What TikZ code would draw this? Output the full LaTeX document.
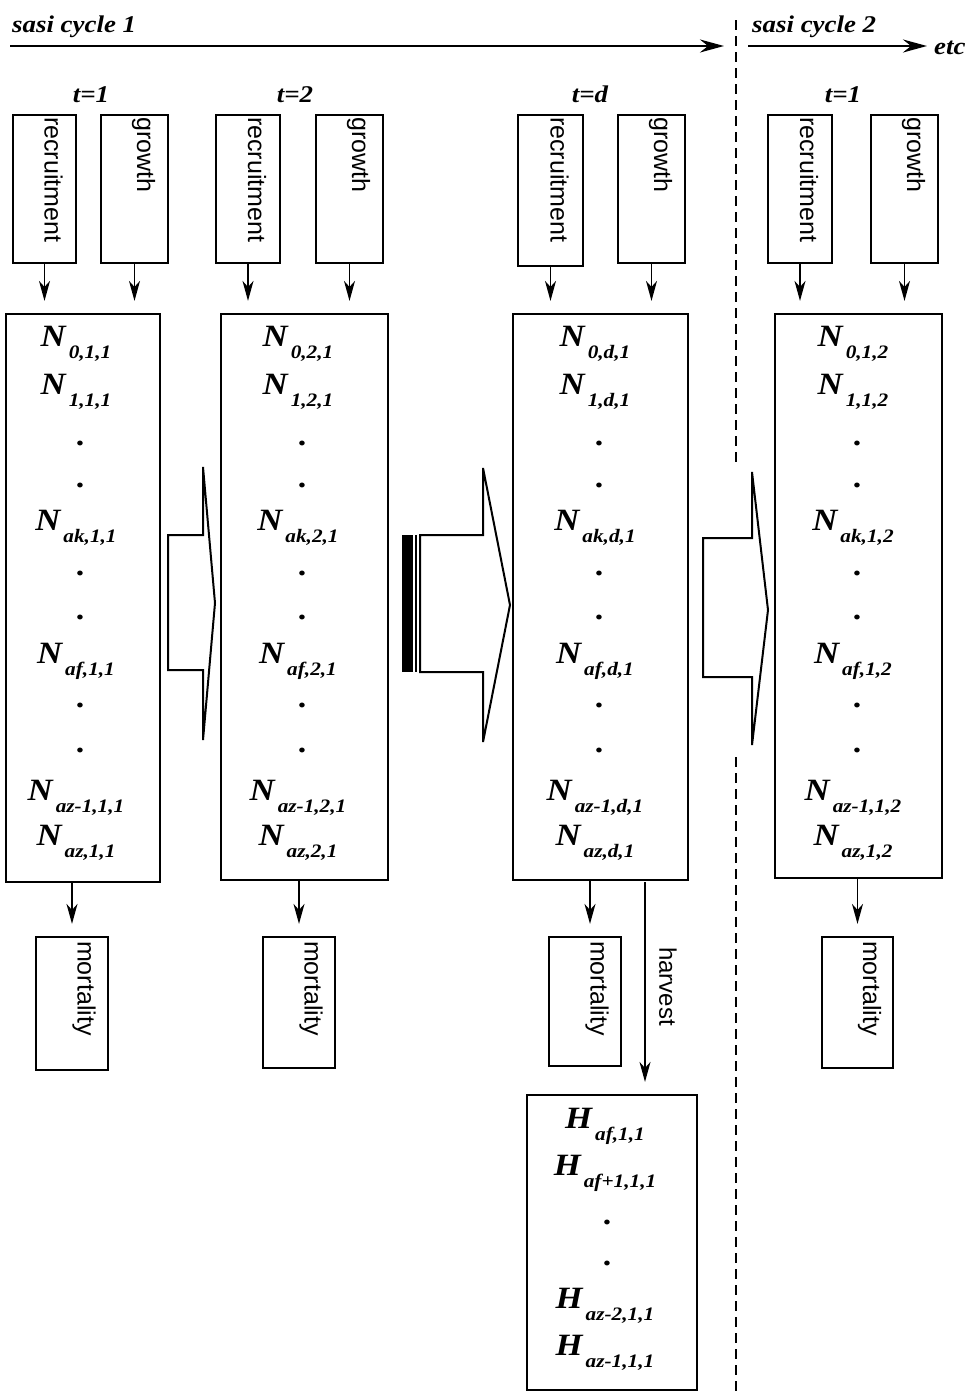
\documentclass[tikz,border=0pt]{standalone}
\usepackage{fontspec}
\setmainfont{Liberation Serif}
\newfontfamily\bif[FakeStretch=1.12]{Liberation Serif}
\newfontfamily\sansf{Liberation Sans}
\usetikzlibrary{arrows.meta,calc}
\newcommand\NN[2]{{\fontsize{31}{31}\selectfont #1}\hspace{3pt}\raisebox{-12pt}{\fontsize{19}{19}\selectfont #2}}
\newcommand\rbox[5]{\node[box, minimum width={#4-#2}, minimum height={#5-#3}] (#1) at ({(#2+#4)/2},{(#3+#5)/2}) {};}
\newcommand\ncol[4]{%
  \node[nt] (#1a) at (#2,346) {\NN{N}{0,#3,#4}};
  \node[nt] (#1b) at (#2,394) {\NN{N}{1,#3,#4}};
  \node[dt] (#1c) at ({#2+4},443) {.};
  \node[dt] (#1d) at ({#2+4},485) {.};
  \node[nt] (#1e) at (#2,530) {\NN{N}{ak,#3,#4}};
  \node[dt] (#1f) at ({#2+4},573) {.};
  \node[dt] (#1g) at ({#2+4},617) {.};
  \node[nt] (#1h) at (#2,663) {\NN{N}{af,#3,#4}};
  \node[dt] (#1i) at ({#2+4},705) {.};
  \node[dt] (#1j) at ({#2+4},750) {.};
  \node[nt] (#1k) at (#2,800) {\NN{N}{az-1,#3,#4}};
  \node[nt] (#1l) at (#2,845) {\NN{N}{az,#3,#4}};
}
\begin{document}
\begin{tikzpicture}[x=1pt,y=-1pt,
  box/.style={draw, rectangle, line width=2.2pt, inner sep=0pt},
  lab/.style={rotate=-90, anchor=west, inner sep=0pt, font=\sansf\fontsize{25}{25}\selectfont},
  nt/.style={anchor=base, inner sep=0pt, font=\bif\bfseries\itshape},
  dt/.style={inner sep=0pt, font=\bif\bfseries\fontsize{30}{30}\selectfont},
  ttl/.style={anchor=base, inner sep=0pt, font=\bif\bfseries\itshape\fontsize{24}{24}\selectfont},
  arr/.style={line width=1.5pt, -{Stealth[length=20pt,width=11pt,inset=6pt]}, shorten >=12pt},
  toparr/.style={line width=2.5pt, -{Stealth[length=24pt,width=13pt,inset=8pt]}},
  bigarr/.style={draw, line width=2pt, line join=miter, fill=white},
  sep/.style={line width=1.6pt, dash pattern=on 10pt off 6pt}
]
\useasboundingbox (0,0) rectangle (972,1393);

% top timeline
\node[ttl, anchor=base west] (c1) at (12,32) {sasi cycle 1};
\node[ttl, anchor=base west] (c2) at (752,32) {sasi cycle 2};
\node[ttl, anchor=base west] (etc) at (934,54) {etc};
\coordinate (a1s) at (10,46);
\coordinate (a1e) at (724,46);
\coordinate (a2s) at (748,46);
\coordinate (a2e) at (927,46);
\draw[toparr] (a1s) -- (a1e);
\draw[toparr] (a2s) -- (a2e);

% dashed separator
\coordinate (d1) at (736,20);
\coordinate (d2) at (736,468);
\coordinate (d3) at (736,757);
\coordinate (d4) at (736,1393);
\draw[sep] (d1) -- (d2);
\draw[sep] (d3) -- (d4);

% time labels
\node[ttl] (t1) at (91,102) {t=1};
\node[ttl] (t2) at (295,102) {t=2};
\node[ttl] (t3) at (590,102) {t=d};
\node[ttl] (t4) at (843,102) {t=1};

% recruitment / growth boxes
\rbox{r1}{13}{115}{76}{263}
\rbox{g1}{101}{115}{168}{263}
\rbox{r2}{216}{115}{280}{263}
\rbox{g2}{316}{115}{383}{263}
\rbox{r3}{518}{115}{583}{266}
\rbox{g3}{618}{115}{685}{263}
\rbox{r4}{768}{115}{832}{263}
\rbox{g4}{871}{115}{938}{263}
\foreach \b in {r1,r2,r3,r4}{\node[lab] at ([xshift=9pt,yshift=-3pt]\b.north) {recruitment};}
\foreach \b in {g1,g2,g3,g4}{\node[lab] at ([xshift=9pt,yshift=-3pt]\b.north) {growth};}

% population boxes
\rbox{n1}{6}{314}{160}{882}
\rbox{n2}{221}{314}{388}{880}
\rbox{n3}{513}{314}{688}{880}
\rbox{n4}{775}{314}{942}{878}
\ncol{pa}{76}{1}{1}
\ncol{pb}{298}{2}{1}
\ncol{pc}{595}{d}{1}
\ncol{pd}{853}{1}{2}

% arrows into population boxes
\foreach \c in {1,2,3,4}{
  \draw[arr] (r\c.south) -- (r\c.south |- n\c.north);
  \draw[arr] (g\c.south) -- (g\c.south |- n\c.north);
}

% mortality boxes
\rbox{m1}{36}{937}{108}{1070}
\rbox{m2}{263}{937}{335}{1068}
\rbox{m3}{549}{937}{621}{1066}
\rbox{m4}{822}{937}{893}{1068}
\foreach \b in {m1,m2,m3,m4}{\node[lab] at ([xshift=12pt,yshift=-5pt]\b.north) {mortality};}
\draw[arr] (m1.north |- n1.south) -- (m1.north);
\draw[arr] (m2.north |- n2.south) -- (m2.north);
\draw[arr] ([xshift=5pt]m3.north |- n3.south) -- ([xshift=5pt]m3.north);
\draw[arr] (m4.north |- n4.south) -- (m4.north);

% harvest
\rbox{h}{527}{1095}{697}{1390}
\coordinate (hv) at (645,882);
\draw[arr, line width=1.2pt] (hv) -- (hv |- h.north);
\node[lab, font=\sansf\fontsize{24}{24}\selectfont] (hl) at (668,947) {harvest};
\node[nt] (ha) at (605,1128) {\NN{H}{af,1,1}};
\node[nt] (hb) at (605,1175) {\NN{H}{af+1,1,1}};
\node[dt] (hc) at (607,1222) {.};
\node[dt] (hd) at (607,1263) {.};
\node[nt] (he) at (605,1308) {\NN{H}{az-2,1,1}};
\node[nt] (hf) at (605,1355) {\NN{H}{az-1,1,1}};

% big transition arrows
\draw[bigarr] (168,535) -- (203,535) -- (203,467) -- (215,603) -- (203,740) -- (203,670) -- (168,670) -- cycle;
\fill (402,535) rectangle (413,672);
\draw[line width=1.5pt] (416,535) -- (416,672);
\draw[bigarr] (420,535) -- (483,535) -- (483,468) -- (510,605) -- (483,742) -- (483,672) -- (420,672) -- cycle;
\draw[bigarr] (703,538) -- (752,538) -- (752,472) -- (768,610) -- (752,745) -- (752,677) -- (703,677) -- cycle;
\end{tikzpicture}
\end{document}
